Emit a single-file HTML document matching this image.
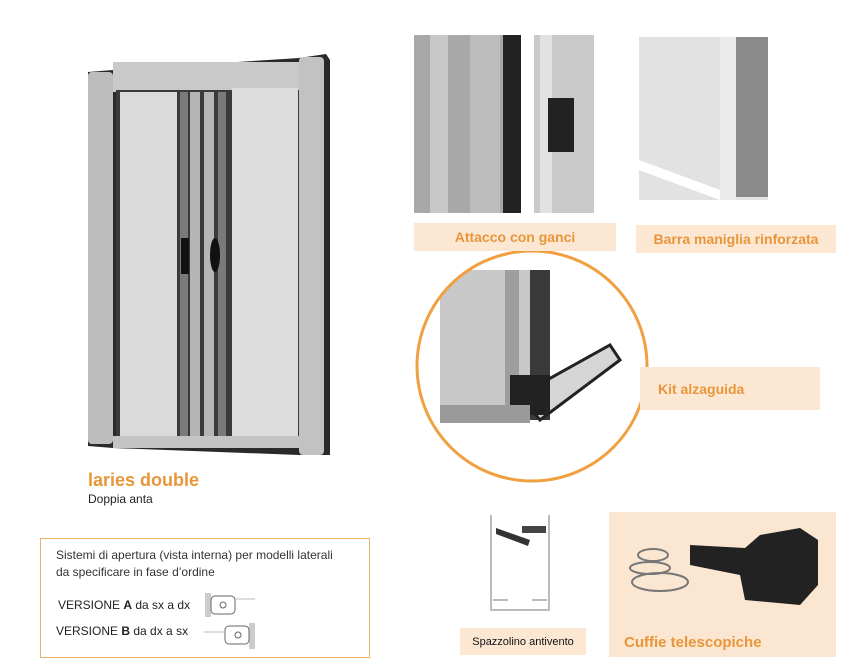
<!DOCTYPE html>
<html><head><meta charset="utf-8"><style>
body{margin:0;width:868px;height:668px;background:#fff;position:relative;overflow:hidden;font-family:"Liberation Sans",sans-serif}
.a{position:absolute}
.lbl{position:absolute;background:#fce7d3;color:#e8963a;font-weight:bold;font-size:14px;display:flex;align-items:center;justify-content:center}
</style></head><body>
<svg class="a" style="left:0;top:0" width="868" height="668">
<!-- door -->
<polygon points="88,72 113,70 299,58 326,54 330,60 330,455 299,455 113,448 88,446" fill="#2a2a2a"/>
<rect x="113" y="62" width="186" height="30" fill="#c9c9c9"/>
<rect x="116" y="90" width="183" height="348" fill="#3a3a3a"/>
<rect x="120" y="92" width="57" height="344" fill="#dadada"/>
<rect x="232" y="88" width="66" height="348" fill="#dcdcdc"/>
<rect x="180" y="92" width="8" height="344" fill="#7a7a7a"/>
<rect x="190" y="92" width="10" height="344" fill="#b5b5b5"/>
<rect x="204" y="92" width="10" height="344" fill="#b5b5b5"/>
<rect x="218" y="92" width="8" height="344" fill="#7a7a7a"/>
<rect x="181" y="238" width="8" height="36" fill="#111"/>
<ellipse cx="215" cy="255" rx="5" ry="17" fill="#111"/>
<rect x="113" y="436" width="186" height="12" fill="#c4c4c4"/>
<rect x="88" y="72" width="25" height="372" rx="4" fill="#bdbdbd"/>
<rect x="299" y="57" width="25" height="398" rx="4" fill="#c2c2c2"/>
<!-- photo 1 -->
<rect x="414" y="35" width="96" height="178" fill="#a8a8a8"/>
<rect x="430" y="35" width="18" height="178" fill="#c8c8c8"/>
<rect x="470" y="35" width="30" height="178" fill="#bdbdbd"/>
<rect x="503" y="35" width="18" height="178" fill="#222"/>
<rect x="534" y="35" width="60" height="178" fill="#c9c9c9"/>
<rect x="540" y="35" width="12" height="178" fill="#e2e2e2"/>
<rect x="548" y="98" width="26" height="54" fill="#222"/>
<!-- photo 2 -->
<rect x="639" y="37" width="129" height="163" fill="#e2e2e2"/>
<polygon points="639,160 720,190 720,200 639,170" fill="#fff"/>
<rect x="720" y="37" width="16" height="163" fill="#ebebeb"/>
<rect x="736" y="37" width="32" height="160" fill="#8a8a8a"/>
<!-- circle -->
<clipPath id="c"><circle cx="532" cy="366" r="115"/></clipPath>
<g clip-path="url(#c)">
<rect x="415" y="250" width="240" height="235" fill="#fff"/>
<rect x="440" y="270" width="110" height="150" fill="#c8c8c8"/>
<rect x="505" y="270" width="14" height="150" fill="#9e9e9e"/>
<rect x="530" y="270" width="20" height="150" fill="#3a3a3a"/>
<polygon points="520,395 610,345 620,360 540,420" fill="#d5d5d5" stroke="#222" stroke-width="3"/>
<rect x="510" y="375" width="40" height="40" fill="#222"/>
<rect x="440" y="405" width="90" height="18" fill="#9a9a9a"/>
</g>
<circle cx="532" cy="366" r="115" fill="none" stroke="#f0a040" stroke-width="3"/>
<!-- spazzolino -->
<path d="M491 515 V610 H549 V515" fill="none" stroke="#bbb" stroke-width="2"/>
<path d="M493 600 H508 M532 600 H547" stroke="#bbb" stroke-width="2"/>
<polygon points="496,528 530,540 528,546 496,534" fill="#333"/>
<rect x="522" y="526" width="24" height="7" fill="#444"/>
<!-- cuffie -->
<rect x="609" y="512" width="227" height="145" fill="#fbe6d1"/>
<g fill="none" stroke="#777" stroke-width="2">
<ellipse cx="653" cy="555" rx="15" ry="6"/><ellipse cx="650" cy="568" rx="20" ry="6"/><ellipse cx="660" cy="582" rx="28" ry="9"/>
</g>
<polygon points="690,545 745,548 760,535 800,528 818,540 818,585 800,605 745,600 740,575 690,565" fill="#222"/>
</svg>
<div class="a" style="left:88px;top:470px;font-size:18px;font-weight:bold;color:#e8963a">laries double</div>
<div class="a" style="left:88px;top:492px;font-size:12px;color:#222">Doppia anta</div>
<div class="a" style="left:40px;top:538px;width:330px;height:120px;border:1px solid #e9b06a;box-sizing:border-box"></div>
<div class="a" style="left:56px;top:547px;font-size:12px;line-height:17px;color:#333">Sistemi di apertura (vista interna) per modelli laterali<br>da specificare in fase d’ordine</div>
<div class="a" style="left:58px;top:598px;font-size:12px;color:#222">VERSIONE <b>A</b> da sx a dx</div>
<div class="a" style="left:56px;top:624px;font-size:12px;color:#222">VERSIONE <b>B</b> da dx a sx</div>
<svg class="a" style="left:200px;top:590px" width="60" height="60">
<rect x="5" y="3" width="6" height="24" fill="#ccc"/><rect x="11" y="6" width="24" height="18" rx="4" fill="#fff" stroke="#666"/><circle cx="23" cy="15" r="3" fill="none" stroke="#666"/><line x1="35" y1="9" x2="55" y2="9" stroke="#bbb"/>
<rect x="49" y="33" width="6" height="26" fill="#ccc"/><rect x="25" y="36" width="24" height="18" rx="4" fill="#fff" stroke="#666"/><circle cx="38" cy="45" r="3" fill="none" stroke="#666"/><line x1="4" y1="42" x2="25" y2="42" stroke="#bbb"/>
</svg>
<div class="lbl" style="left:414px;top:223px;width:202px;height:28px">Attacco con ganci</div>
<div class="lbl" style="left:636px;top:225px;width:200px;height:28px">Barra maniglia rinforzata</div>
<div class="lbl" style="left:640px;top:367px;width:180px;height:43px;justify-content:flex-start;padding-left:18px;box-sizing:border-box">Kit alzaguida</div>
<div class="lbl" style="left:460px;top:628px;width:126px;height:27px;color:#111;font-weight:normal;font-size:11px">Spazzolino antivento</div>
<div class="a" style="left:624px;top:634px;font-size:15px;font-weight:bold;color:#e8963a">Cuffie telescopiche</div>
</body></html>
